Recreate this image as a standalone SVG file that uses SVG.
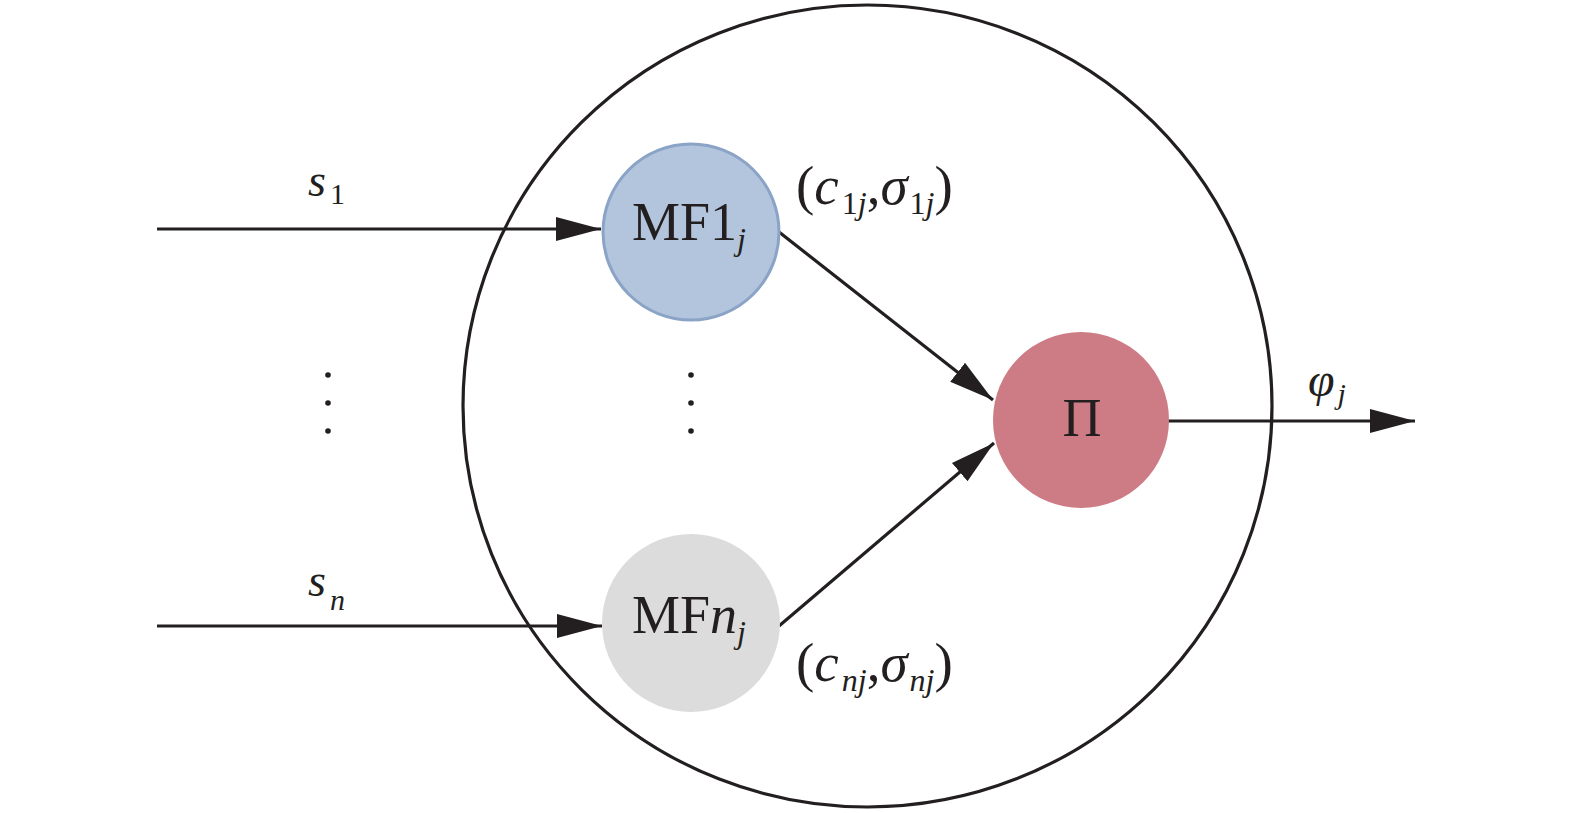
<svg xmlns="http://www.w3.org/2000/svg" width="1575" height="813" viewBox="0 0 1575 813">
<style>
.t{font-family:"Liberation Serif","Times New Roman",serif;fill:#231f20}
.i{font-style:italic}
.ln{stroke:#231f20;stroke-width:3.2;fill:none}
.dot{fill:#231f20}
</style>
<defs>
<marker id="ah" markerUnits="userSpaceOnUse" markerWidth="46" markerHeight="26" refX="45" refY="13" orient="auto" viewBox="0 0 46 26">
<path d="M0,1 L45,13 L0,25 Z" fill="#231f20"/>
</marker>
</defs>
<rect width="1575" height="813" fill="#ffffff"/>
<g id="outer"><ellipse cx="867.5" cy="406" rx="404.5" ry="401" class="ln"/></g>
<g id="connectors">
<line x1="157" y1="229" x2="601" y2="229" class="ln" marker-end="url(#ah)"/>
<line x1="157" y1="626" x2="602" y2="626" class="ln" marker-end="url(#ah)"/>
<line x1="779" y1="232" x2="993" y2="400" class="ln" marker-end="url(#ah)"/>
<line x1="779" y1="626" x2="994" y2="443" class="ln" marker-end="url(#ah)"/>
<line x1="1168" y1="421" x2="1415" y2="421" class="ln" marker-end="url(#ah)"/>
</g>
<g id="mf1">
<circle cx="691" cy="232" r="88" fill="#b3c5dc" stroke="#8aa3c6" stroke-width="3"/>
<text class="t" x="632" y="240" font-size="54">MF1<tspan class="i" font-size="32" dy="10">j</tspan></text>
</g>
<g id="mfn">
<circle cx="691" cy="623" r="89" fill="#dcdcdc"/>
<text class="t" x="632" y="633" font-size="54">MF<tspan class="i">n</tspan><tspan class="i" font-size="32" dy="10">j</tspan></text>
</g>
<g id="pi">
<circle cx="1081" cy="420" r="88" fill="#cd7b85"/>
<text class="t" x="1082" y="436" font-size="54" text-anchor="middle">Π</text>
</g>
<g id="labels">
<text class="t" x="308" y="196" font-size="46"><tspan class="i">s</tspan><tspan font-size="30" dx="4" dy="8">1</tspan></text>
<text class="t" x="308" y="596" font-size="46"><tspan class="i">s</tspan><tspan class="i" font-size="30" dx="4" dy="14">n</tspan></text>
<text class="t" x="796" y="204" font-size="55">(<tspan class="i">c</tspan><tspan font-size="32" dx="3" dy="10">1</tspan><tspan class="i" font-size="32">j</tspan><tspan dy="-10">,</tspan><tspan class="i">σ</tspan><tspan font-size="32" dx="2" dy="10">1</tspan><tspan class="i" font-size="32">j</tspan><tspan dy="-10">)</tspan></text>
<text class="t" x="796" y="681" font-size="55">(<tspan class="i">c</tspan><tspan class="i" font-size="32" dx="3" dy="10">nj</tspan><tspan dy="-10">,</tspan><tspan class="i">σ</tspan><tspan class="i" font-size="32" dx="2" dy="10">nj</tspan><tspan dy="-10">)</tspan></text>
<text class="t" x="1308" y="396" font-size="48"><tspan class="i">φ</tspan><tspan class="i" font-size="30" dx="3" dy="8">j</tspan></text>
</g>
<g id="dots">
<circle cx="328" cy="375" r="2.8" class="dot"/>
<circle cx="328" cy="403" r="2.8" class="dot"/>
<circle cx="328" cy="431" r="2.8" class="dot"/>
<circle cx="691" cy="375" r="2.8" class="dot"/>
<circle cx="691" cy="403" r="2.8" class="dot"/>
<circle cx="691" cy="431" r="2.8" class="dot"/>
</g>
</svg>
